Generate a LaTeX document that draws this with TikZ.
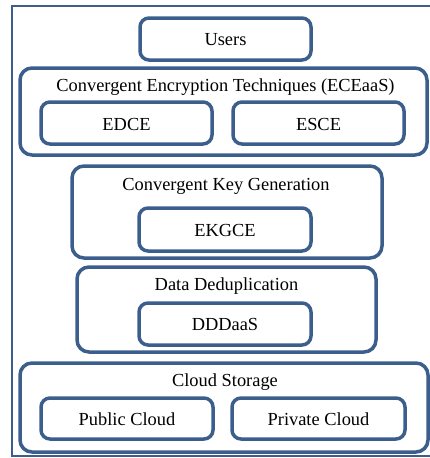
\documentclass[tikz,border=0pt]{standalone}
\usepackage{fontspec}
\setmainfont{Liberation Serif}
\definecolor{boxblue}{HTML}{3B5E8C}
\begin{document}
\begin{tikzpicture}[x=1pt,y=-1pt,
  group/.style={draw=boxblue,line width=3.5pt,rounded corners=12pt},
  item/.style={draw=boxblue,line width=3.5pt,rounded corners=9pt},
  lbl/.style={font=\fontsize{18.4}{20}\selectfont,inner sep=0pt}]
\useasboundingbox (0,0) rectangle (429,458);
% outer frame (right side runs past the edge)
\draw[boxblue,line width=2.2pt] (12,6) rectangle (436,456);

\draw[item] (140,18) rectangle (311,60);
\node[lbl] (users) at (225.5,40) {Users};

% encryption layer
\draw[group] (20,68) rectangle (427,155);
\node[lbl] (ece) at (225.5,87) {Convergent Encryption Techniques (ECEaaS)};
\draw[item] (41,102) rectangle (212,144);
\node[lbl] (edce) at (126.5,124) {EDCE};
\draw[item] (233,102) rectangle (404,144);
\node[lbl] (esce) at (318.5,124) {ESCE};

% key generation layer
\draw[group] (72,166) rectangle (382,258);
\node[lbl] (ckg) at (226,186) {Convergent Key Generation};
\draw[item] (139,208) rectangle (311,251);
\node[lbl] (ekgce) at (225,230) {EKGCE};

% deduplication layer
\draw[group] (77,267) rectangle (376,352);
\node[lbl] (dd) at (226.5,286) {Data Deduplication};
\draw[item] (139,303) rectangle (311,345);
\node[lbl] (dddaas) at (225,324) {DDDaaS};

% storage layer
\draw[group] (20,363) rectangle (428,452);
\node[lbl] (cs) at (225,382) {Cloud Storage};
\draw[item] (41,398) rectangle (213,439);
\node[lbl] (pub) at (127,419) {Public Cloud};
\draw[item] (232,398) rectangle (405,439);
\node[lbl] (priv) at (318.5,419) {Private Cloud};
\end{tikzpicture}
\end{document}
